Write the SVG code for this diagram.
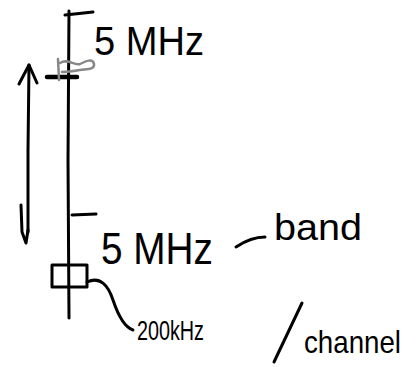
<svg xmlns="http://www.w3.org/2000/svg" width="416" height="367" viewBox="0 0 416 367">
<style>
.ink{fill:none;stroke:#000;stroke-width:3;stroke-linecap:round;stroke-linejoin:round}
.thick{stroke-width:4.5}
.gray{fill:none;stroke:#888;stroke-width:2.5;stroke-linecap:round;stroke-linejoin:round}
.t{font-family:"Liberation Sans","DejaVu Sans",sans-serif;fill:#000}
</style>
<rect width="416" height="367" fill="#fff"/>
<g id="axis">
<path class="ink" d="M69,11 L68,160 L69,318"/>
<path class="ink" d="M65,15 L93,12"/>
<path class="ink" d="M72,215 L96,214"/>
<path class="ink thick" d="M47,77 L77,77"/>
</g>
<g id="flag">
<path class="gray" d="M58,59 L59,80"/>
<path class="gray" d="M60,63 C68,58 74,66 80,64 C86,61 93,58 94,64 C95,70 86,69 80,70 C74,71 68,72 62,72"/>
</g>
<g id="arrows">
<path class="ink" d="M29,65 L28,150 L28,232"/>
<path class="ink" d="M19,84 L29,65 L37,83"/>
<path class="ink" d="M21,205 L22,232 L26,243 L28,230"/>
</g>
<g id="labels">
<text class="t" x="94" y="55" font-size="40" textLength="110" lengthAdjust="spacingAndGlyphs">5 MHz</text>
<text class="t" x="101" y="264" font-size="44" textLength="112" lengthAdjust="spacingAndGlyphs">5 MHz</text>
<path class="ink" d="M236,247 C245,241 255,237 265,237"/>
<text class="t" x="274" y="240" font-size="36" textLength="88" lengthAdjust="spacingAndGlyphs">band</text>
</g>
<g id="channel-box">
<rect class="ink" x="52" y="265" width="35" height="22"/>
</g>
<g id="connectors">
<path class="ink" d="M87,282 C100,276 108,285 113,300 C118,315 124,327 133,330"/>
<path class="ink" d="M302,303 L274,362"/>
</g>
<g id="channel-label">
<text class="t" x="137" y="340" font-size="28" textLength="67" lengthAdjust="spacingAndGlyphs">200kHz</text>
<text class="t" x="304" y="353" font-size="32" textLength="97" lengthAdjust="spacingAndGlyphs">channel</text>
</g>
</svg>
